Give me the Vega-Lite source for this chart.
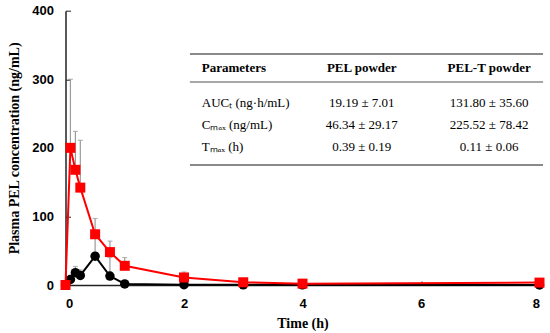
{
  "$schema": "https://vega.github.io/schema/vega-lite/v6.json",
  "autosize": {"type": "none"},
  "padding": {"left": 65.5, "top": 10.7, "right": 10.5, "bottom": 48},
  "width": 474,
  "height": 274.3,
  "background": "white",
  "config": {"view": {"stroke": null}},
  "datasets": {
    "pk": [
      {"t": 0, "formulation": "PEL-T powder", "mean": 0, "upper": 0},
      {"t": 0.083, "formulation": "PEL-T powder", "mean": 200, "upper": 300},
      {"t": 0.167, "formulation": "PEL-T powder", "mean": 168, "upper": 224},
      {"t": 0.25, "formulation": "PEL-T powder", "mean": 142, "upper": 211},
      {"t": 0.5, "formulation": "PEL-T powder", "mean": 74, "upper": 97},
      {"t": 0.75, "formulation": "PEL-T powder", "mean": 48, "upper": 64},
      {"t": 1, "formulation": "PEL-T powder", "mean": 28, "upper": 40},
      {"t": 2, "formulation": "PEL-T powder", "mean": 11, "upper": 19},
      {"t": 3, "formulation": "PEL-T powder", "mean": 4, "upper": 6},
      {"t": 4, "formulation": "PEL-T powder", "mean": 2, "upper": 3},
      {"t": 8, "formulation": "PEL-T powder", "mean": 3.5, "upper": 5},
      {"t": 0, "formulation": "PEL powder", "mean": 0, "upper": 0},
      {"t": 0.083, "formulation": "PEL powder", "mean": 8, "upper": 14},
      {"t": 0.167, "formulation": "PEL powder", "mean": 18, "upper": 27},
      {"t": 0.25, "formulation": "PEL powder", "mean": 14, "upper": 22},
      {"t": 0.5, "formulation": "PEL powder", "mean": 42, "upper": 73},
      {"t": 0.75, "formulation": "PEL powder", "mean": 13, "upper": 40},
      {"t": 1, "formulation": "PEL powder", "mean": 1.5, "upper": 3},
      {"t": 2, "formulation": "PEL powder", "mean": 0.5, "upper": 1},
      {"t": 3, "formulation": "PEL powder", "mean": 0.3, "upper": 0.5},
      {"t": 4, "formulation": "PEL powder", "mean": 0.2, "upper": 0.4},
      {"t": 8, "formulation": "PEL powder", "mean": 0.1, "upper": 0.2}
    ],
    "tabletext": [
      {"cx": 2.3, "cy": 316, "label": "Parameters", "head": true, "align": "left"},
      {"cx": 5.0, "cy": 316, "label": "PEL powder", "head": true, "align": "center"},
      {"cx": 7.15, "cy": 316, "label": "PEL-T powder", "head": true, "align": "center"},
      {"cx": 2.3, "cy": 265, "label": "AUCₜ (ng·h/mL)", "head": false, "align": "left"},
      {"cx": 5.0, "cy": 265, "label": "19.19 ± 7.01", "head": false, "align": "center"},
      {"cx": 7.15, "cy": 265, "label": "131.80 ± 35.60", "head": false, "align": "center"},
      {"cx": 2.3, "cy": 233, "label": "Cₘₐₓ (ng/mL)", "head": false, "align": "left"},
      {"cx": 5.0, "cy": 233, "label": "46.34 ± 29.17", "head": false, "align": "center"},
      {"cx": 7.15, "cy": 233, "label": "225.52 ± 78.42", "head": false, "align": "center"},
      {"cx": 2.3, "cy": 201, "label": "Tₘₐₓ (h)", "head": false, "align": "left"},
      {"cx": 5.0, "cy": 201, "label": "0.39 ± 0.19", "head": false, "align": "center"},
      {"cx": 7.15, "cy": 201, "label": "0.11 ± 0.06", "head": false, "align": "center"}
    ],
    "tablelines": [
      {"x1": 2.1, "x2": 8.06, "ly": 337, "w": 2},
      {"x1": 2.1, "x2": 8.06, "ly": 296, "w": 1.5},
      {"x1": 2.1, "x2": 8.06, "ly": 175, "w": 2}
    ]
  },
  "encoding": {
    "x": {
      "type": "quantitative",
      "scale": {"domain": [0, 8], "nice": false},
      "axis": {
        "title": "Time (h)",
        "values": [0, 2, 4, 6, 8],
        "format": "d",
        "grid": false,
        "domainColor": "#222",
        "domainWidth": 1.5,
        "tickColor": "#222",
        "tickSize": -4,
        "labelPadding": 16,
        "labelFont": "Liberation Sans",
        "labelFontWeight": "bold",
        "labelFontSize": 13,
        "labelColor": "black",
        "titleFont": "Liberation Serif",
        "titleFontWeight": "bold",
        "titleFontSize": 14,
        "titleColor": "black",
        "titlePadding": 6
      }
    },
    "y": {
      "type": "quantitative",
      "scale": {"domain": [0, 400], "nice": false},
      "axis": {
        "title": "Plasma PEL concentration (ng/mL)",
        "values": [0, 100, 200, 300, 400],
        "grid": false,
        "domainColor": "#222",
        "domainWidth": 1.5,
        "tickColor": "#222",
        "tickSize": -5,
        "labelPadding": 17,
        "labelFont": "Liberation Sans",
        "labelFontWeight": "bold",
        "labelFontSize": 13,
        "labelColor": "black",
        "titleFont": "Liberation Serif",
        "titleFontWeight": "bold",
        "titleFontSize": 14,
        "titleColor": "black",
        "titlePadding": 10
      }
    }
  },
  "layer": [
    {
      "data": {"name": "tablelines"},
      "mark": {"type": "rule", "color": "#8a8a8a", "clip": false},
      "encoding": {
        "x": {"field": "x1", "type": "quantitative"},
        "x2": {"field": "x2"},
        "y": {"field": "ly", "type": "quantitative"},
        "strokeWidth": {"field": "w", "type": "quantitative", "scale": null}
      }
    },
    {
      "data": {"name": "tabletext"},
      "transform": [{"filter": "datum.align == 'left' && datum.head"}],
      "mark": {"type": "text", "align": "left", "baseline": "middle", "font": "Liberation Serif", "fontSize": 13, "fontWeight": "bold", "color": "black"},
      "encoding": {
        "x": {"field": "cx", "type": "quantitative"},
        "y": {"field": "cy", "type": "quantitative"},
        "text": {"field": "label"}
      }
    },
    {
      "data": {"name": "tabletext"},
      "transform": [{"filter": "datum.align == 'center' && datum.head"}],
      "mark": {"type": "text", "align": "center", "baseline": "middle", "font": "Liberation Serif", "fontSize": 13, "fontWeight": "bold", "color": "black"},
      "encoding": {
        "x": {"field": "cx", "type": "quantitative"},
        "y": {"field": "cy", "type": "quantitative"},
        "text": {"field": "label"}
      }
    },
    {
      "data": {"name": "tabletext"},
      "transform": [{"filter": "datum.align == 'left' && !datum.head"}],
      "mark": {"type": "text", "align": "left", "baseline": "middle", "font": "Liberation Serif", "fontSize": 13, "color": "black"},
      "encoding": {
        "x": {"field": "cx", "type": "quantitative"},
        "y": {"field": "cy", "type": "quantitative"},
        "text": {"field": "label"}
      }
    },
    {
      "data": {"name": "tabletext"},
      "transform": [{"filter": "datum.align == 'center' && !datum.head"}],
      "mark": {"type": "text", "align": "center", "baseline": "middle", "font": "Liberation Serif", "fontSize": 13, "color": "black"},
      "encoding": {
        "x": {"field": "cx", "type": "quantitative"},
        "y": {"field": "cy", "type": "quantitative"},
        "text": {"field": "label"}
      }
    },
    {
      "data": {"name": "pk"},
      "mark": {"type": "rule", "color": "#9a9a9a", "strokeWidth": 1.2, "clip": false},
      "encoding": {
        "x": {"field": "t", "type": "quantitative"},
        "y": {"field": "mean", "type": "quantitative"},
        "y2": {"field": "upper"}
      }
    },
    {
      "data": {"name": "pk"},
      "mark": {"type": "tick", "color": "#9a9a9a", "orient": "horizontal", "size": 5, "thickness": 1.2, "clip": false},
      "encoding": {
        "x": {"field": "t", "type": "quantitative"},
        "y": {"field": "upper", "type": "quantitative"}
      }
    },
    {
      "data": {"name": "pk"},
      "transform": [{"filter": "datum.formulation == 'PEL powder'"}],
      "mark": {"type": "line", "color": "black", "strokeWidth": 2, "clip": false, "point": {"filled": true, "shape": "circle", "size": 90, "color": "black"}},
      "encoding": {
        "x": {"field": "t", "type": "quantitative"},
        "y": {"field": "mean", "type": "quantitative"}
      }
    },
    {
      "data": {"name": "pk"},
      "transform": [{"filter": "datum.formulation == 'PEL-T powder'"}],
      "mark": {"type": "line", "color": "#ff0000", "strokeWidth": 2, "clip": false, "point": {"filled": true, "shape": "square", "size": 100, "color": "#ff0000"}},
      "encoding": {
        "x": {"field": "t", "type": "quantitative"},
        "y": {"field": "mean", "type": "quantitative"}
      }
    }
  ]
}
